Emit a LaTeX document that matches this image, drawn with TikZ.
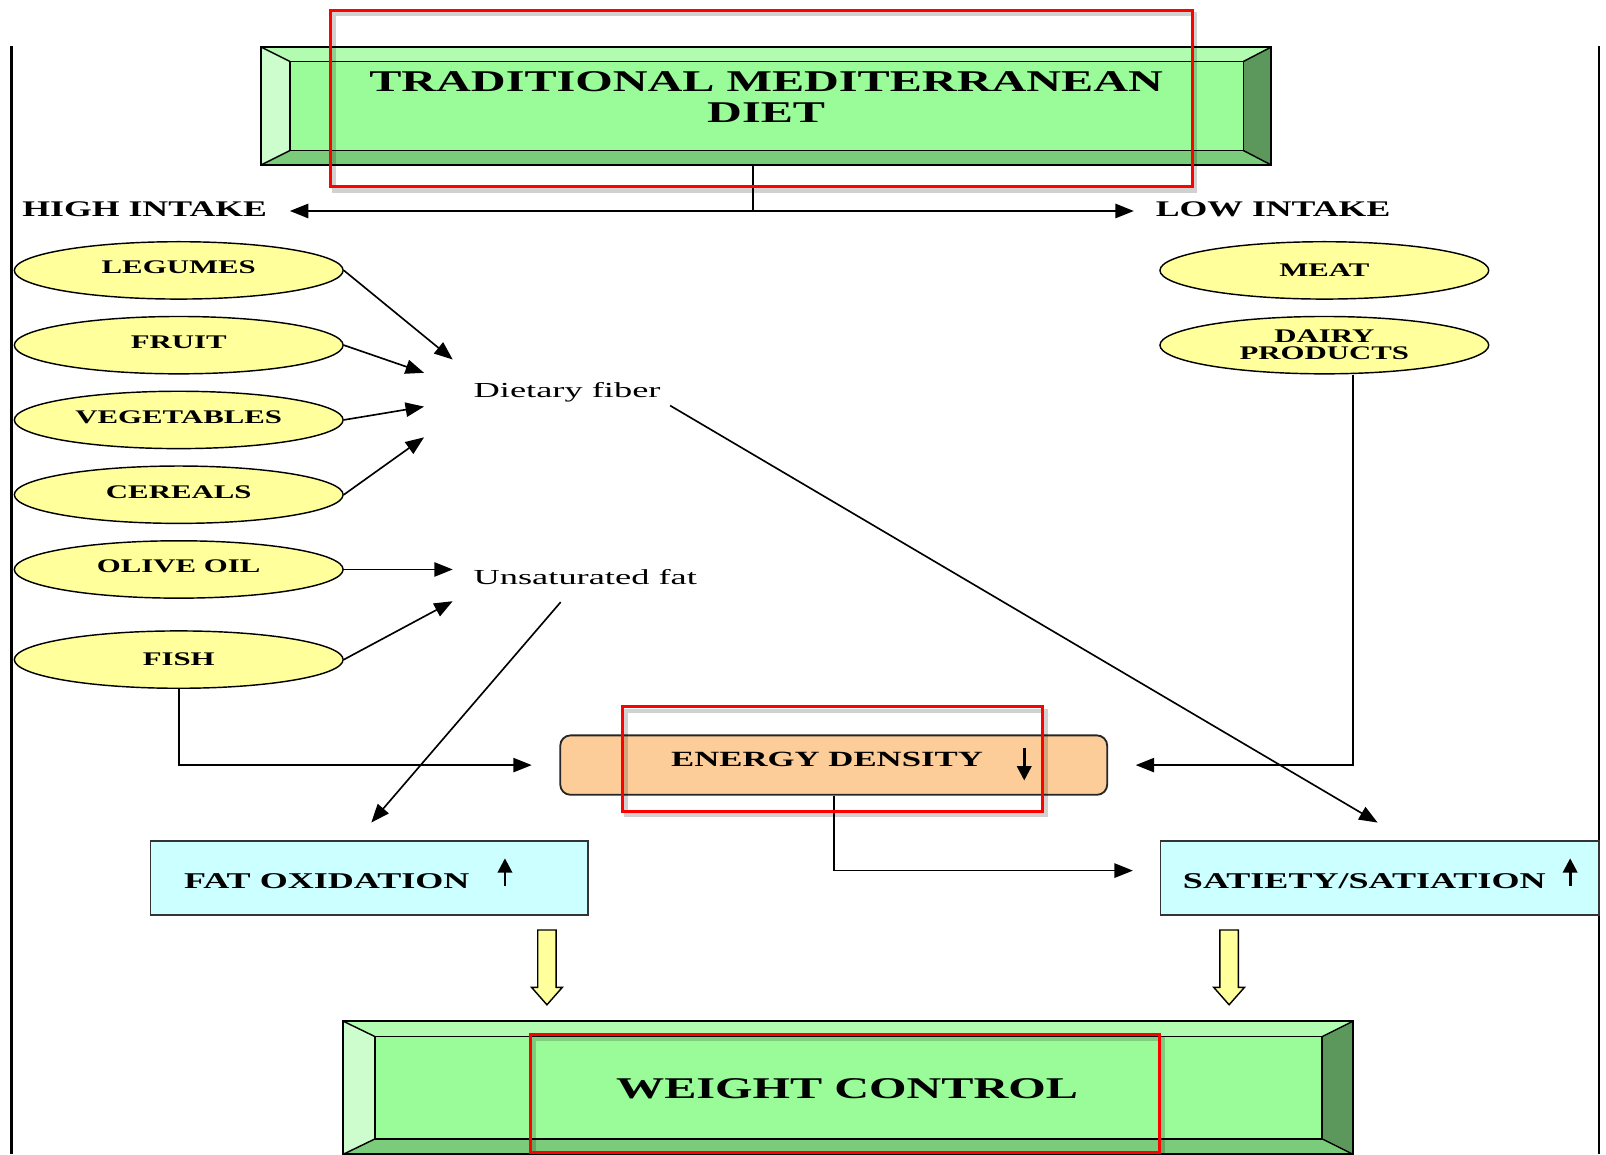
\documentclass[tikz,border=0pt]{standalone}
\usepackage{fontspec}
\setmainfont{Liberation Serif}
\newfontfamily\widebf[FakeStretch=1.6]{Liberation Serif}
\newfontfamily\widerm[FakeStretch=1.7]{Liberation Serif}
\usetikzlibrary{shapes.geometric,arrows.meta,calc}
\definecolor{gface}{RGB}{153,252,153}
\definecolor{gtop}{RGB}{178,252,178}
\definecolor{gleft}{RGB}{205,252,205}
\definecolor{gright}{RGB}{92,152,92}
\definecolor{gbot}{RGB}{122,204,122}
\definecolor{yel}{RGB}{255,255,155}
\definecolor{peach}{RGB}{252,204,153}
\definecolor{cyanbox}{RGB}{204,255,255}
\newcommand\bevelbox[8]{%
  \fill[gtop] (#1,#2) -- (#3,#2) -- (#7,#6) -- (#5,#6) -- cycle;
  \fill[gleft] (#1,#2) -- (#5,#6) -- (#5,#8) -- (#1,#4) -- cycle;
  \fill[gright] (#3,#2) -- (#3,#4) -- (#7,#8) -- (#7,#6) -- cycle;
  \fill[gbot] (#1,#4) -- (#5,#8) -- (#7,#8) -- (#3,#4) -- cycle;
  \fill[gface] (#5,#6) rectangle (#7,#8);
  \draw[line width=0.8pt] (#1,#2) rectangle (#3,#4);
  \draw[line width=0.8pt] (#5,#6) rectangle (#7,#8);
  \draw[line width=0.7pt] (#1,#2) -- (#5,#6) (#3,#2) -- (#7,#6) (#1,#4) -- (#5,#8) (#3,#4) -- (#7,#8);
}
\tikzset{
  conn/.style={draw=black, line width=0.8pt},
  arr/.style={conn, -{Triangle[length=9pt,width=7pt]}},
  food/.style={ellipse, draw=black, line width=0.7pt, fill=yel, minimum width=160.5pt,
    minimum height=28pt, inner sep=0pt, align=center,
    font=\widebf\bfseries\fontsize{9.4}{8.3}\selectfont},
  effect/.style={rectangle, draw=black!80, line width=0.9pt, fill=cyanbox,
    minimum width=213.5pt, minimum height=36pt, inner sep=0pt},
  caps/.style={inner sep=0pt, font=\widebf\bfseries\fontsize{10.9}{12}\selectfont},
  plain/.style={inner sep=0pt, font=\widerm\fontsize{10.45}{12}\selectfont},
  updown/.style={line width=1.3pt, -{Triangle[length=7pt,width=7pt]}},
  blockarr/.style={fill=yel, draw=black, line width=0.7pt},
  hl/.style={draw=red, line width=1.6pt},
  hlshadow/.style={draw=black, opacity=0.18, line width=2pt},
  frame/.style={line width=1.3pt, draw=black},
}
\begin{document}
\begin{tikzpicture}[x=0.5pt,y=-0.5pt]
\useasboundingbox (0,0) rectangle (1568,1127);
\fill[white] (0,0) rectangle (1568,1127);

% page frame lines
\draw[frame] (11,45) -- (11,1127);
\draw[frame] (1561,45) -- (1561,1127);

% title box
\bevelbox{255}{46}{1241}{161}{283}{60}{1214}{147}
\node[minimum width=493pt, minimum height=57.5pt, inner sep=0pt] (titlebox) at (748,103.5) {};
\node[inner sep=0pt, align=center, font=\widebf\bfseries\fontsize{14.7}{15}\selectfont] (title) at (748,95)
  {TRADITIONAL MEDITERRANEAN\\DIET};

% intake labels
\coordinate (split) at (735,206);
\node[caps, anchor=east] (hi) at (261,204) {HIGH INTAKE};
\node[caps, anchor=west] (lo) at (1128,204) {LOW INTAKE};
\draw[conn] (titlebox.south -| split) -- (split);
\draw[arr, shorten >=11pt] (split) -- (split -| hi.east);
\draw[arr, shorten >=10.5pt] (split) -- (split -| lo.west);

% high-intake foods
\node[food] (leg) at (174.5,264) {\raisebox{3pt}{LEGUMES}};
\node[food] (fru) at (174.5,337) {\raisebox{3pt}{FRUIT}};
\node[food] (veg) at (174.5,410) {\raisebox{3pt}{VEGETABLES}};
\node[food] (cer) at (174.5,483) {\raisebox{3pt}{CEREALS}};
\node[food] (oil) at (174.5,556) {\raisebox{3pt}{OLIVE OIL}};
\node[food] (fish) at (174.5,644) {FISH};

% low-intake foods
\node[food] (meat) at (1293,264) {MEAT};
\node[food] (dairy) at (1293,337) {DAIRY\\PRODUCTS};

% nutrients
\node[plain, anchor=west] (fib) at (462,383) {Dietary fiber};
\node[plain, anchor=west] (uf) at (462,563) {Unsaturated fat};

% energy density
\node[rectangle, rounded corners=5pt, draw=black!85, line width=0.9pt, fill=peach,
  minimum width=267pt, minimum height=29pt, inner sep=0pt] (en) at (814,747) {};
\node[caps, font=\widebf\bfseries\fontsize{10.6}{12}\selectfont] (enT) at (807.5,741) {ENERGY DENSITY};
\draw[updown] ([shift={(186,-17)}]en.center) -- ([shift={(186,15)}]en.center);

% effect boxes
\node[effect] (fat) at (360.5,857) {};
\node[caps, font=\widebf\bfseries\fontsize{11}{12}\selectfont] (fatT) at (319,860) {FAT OXIDATION};
\draw[updown] ([shift={(132.5,8)}]fat.center) -- ([shift={(132.5,-19)}]fat.center);
\node[effect, minimum width=214pt] (sat) at (1347,857) {};
\node[caps, font=\widebf\bfseries\fontsize{11}{12}\selectfont] (satT) at (1332,860) {SATIETY/SATIATION};
\draw[updown] ([shift={(186,8)}]sat.center) -- ([shift={(186,-19)}]sat.center);

% weight control box
\bevelbox{335}{997}{1321}{1127}{366}{1012}{1291}{1112}
\node[minimum width=493pt, minimum height=65pt, inner sep=0pt] (wcbox) at (828,1062) {};
\node[inner sep=0pt, font=\widebf\bfseries\fontsize{14.7}{15}\selectfont] (wc) at (827,1063) {WEIGHT CONTROL};

% connectors into dietary fiber / unsaturated fat
\draw[arr] (leg.east) -- ([shift={(-20,-32)}]fib.west);
\draw[arr] (fru.east) -- ([shift={(-48,-19)}]fib.west);
\draw[arr] (veg.east) -- ([shift={(-48,14)}]fib.west);
\draw[arr] (cer.east) -- ([shift={(-48,44)}]fib.west);
\draw[arr] (oil.east) -- ([shift={(-20,-7)}]uf.west);
\draw[arr] (fish.east) -- ([shift={(-20,24)}]uf.west);

% long diagonals
\draw[arr] ([shift={(9,13)}]fib.east) -- ([shift={(-2,-17)}]sat.north);
\draw[arr] ([shift={(-24,17)}]uf.south) -- ([shift={(2,-17)}]fat.north);

% to/from energy density
\draw[arr] (fish.south) |- ([shift={(-27,0)}]en.west);
\draw[arr] ([shift={(28,0)}]dairy.south) |- ([shift={(27,0)}]en.east);
\draw[arr] (en.south) |- ([shift={(-26,-7)}]sat.west);

% block arrows to weight control
\draw[blockarr] (525,908) -- (543,908) -- (543,964) -- (549,964) -- (534,981) -- (519,964) -- (525,964) -- cycle;
\draw[blockarr] (1191,908) -- (1209,908) -- (1209,964) -- (1215,964) -- (1200,981) -- (1185,964) -- (1191,964) -- cycle;

% red highlight rectangles
\draw[hlshadow] (326,14) rectangle (1167,186);
\draw[hl] (323,10) rectangle (1164,182);
\draw[hlshadow] (611,694) rectangle (1021,796);
\draw[hl] (608,690) rectangle (1018,792);
\draw[hlshadow] (521,1014) rectangle (1135,1130);
\draw[hl] (518,1010) rectangle (1132,1125);
\end{tikzpicture}
\end{document}
